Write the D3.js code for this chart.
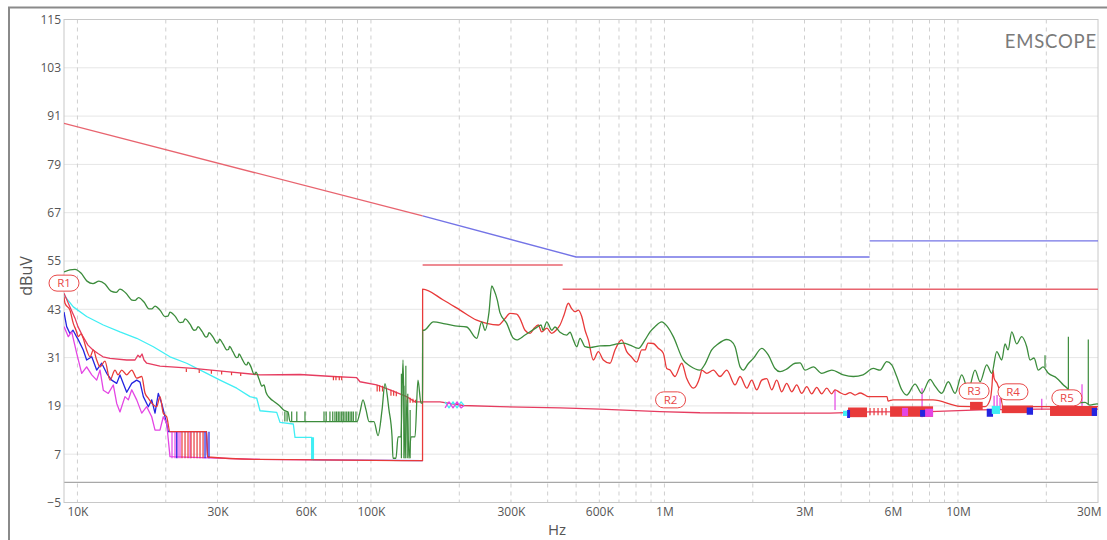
<!DOCTYPE html>
<html><head><meta charset="utf-8">
<script src="https://cdn.jsdelivr.net/npm/d3@7"></script>
<style>body{margin:0;background:#fff;} svg{display:block;font-family:"Open Sans",sans-serif;}</style>
</head><body><svg id="c" width="1107" height="540"></svg>
<script>
// ---- data (frequency in kHz, level in dBuV) ----
const yTicks = [115,103,91,79,67,55,43,31,19,7,-5];
const xTickValues = [10,30,60,100,300,600,1000,3000,6000,10000,30000];
const xTickLabels = ["10K","30K","60K","100K","300K","600K","1M","3M","6M","10M","30M"];

const limitPink = [[9,89.2],[150,66.2]];
const limitBlue = [[150,66.2],[500,56],[5000,56]];
const limitBlueHi = [[5000,60],[30000,60]];
const limitAvgA = [[150,54],[450,54]];
const limitAvgB = [[450,48],[30000,48]];

const greenTrace = [[9.0,52.3],[9.43,52.8],[9.81,52.9],[10.28,52.0],[10.78,50.0],[11.3,49.4],[11.84,50.0],[12.41,49.3],[13.01,47.5],[13.54,47.2],[13.96,48.0],[14.64,47.0],[15.35,45.3],[15.71,45.2],[16.15,45.9],[16.86,44.8],[17.53,43.1],[17.95,43.1],[18.38,43.8],[19.11,42.8],[19.88,41.2],[20.35,41.3],[20.67,42.3],[21.5,41.3],[22.36,39.7],[22.9,39.8],[23.26,40.6],[24.19,39.3],[24.96,37.8],[25.35,37.9],[25.76,38.7],[26.58,37.5],[27.42,36.1],[27.75,36.3],[28.07,37.2],[28.97,36.1],[29.9,34.6],[30.25,34.9],[30.49,35.6],[31.33,34.4],[32.34,32.9],[32.72,33.0],[32.98,33.8],[33.89,32.4],[34.83,31.0],[35.24,31.1],[35.53,31.9],[36.37,30.7],[37.53,29.2],[37.82,29.2],[38.12,29.9],[39.02,28.7],[39.96,26.9],[40.27,26.9],[40.59,27.4],[41.55,25.7],[42.54,23.9],[43.21,24.2],[43.89,22.4],[45.3,20.9],[47.11,19.9],[49.0,18.9],[50.57,17.9],[52.18,17.5],[53.0,15.1],[89.65,15.1],[91.78,17.5],[93.96,20.5],[96.21,18.0],[98.5,15.1],[102.4,15.1],[105.7,11.6],[109.1,18.0],[111.6,24.5],[115.2,18.0],[118.0,11.4],[118.9,6.0],[121.7,6.0],[123.7,11.3],[126.6,11.3],[128.6,30.4],[130.6,6.0],[132.7,20.5],[134.8,6.0],[136.9,11.3],[141.3,11.3],[144.6,25.4],[148.1,19.7],[149.9,19.7],[150.0,37.8],
[151.6,37.8],[163.2,39.9],[178.8,39.4],[193.4,38.9],[212.0,38.6],[229.3,35.8],[238.5,39.9],[244.7,37.8],[252.5,42.3],[257.9,48.8],[262.6,47.8],[269.5,45.3],[275.3,42.1],[290.2,39.5],[305.6,35.8],[313.8,35.4],[334.9,36.6],[367.2,38.5],[379.8,39.1],[385.7,37.8],[397.3,39.9],[413.1,37.8],[423.9,38.6],[440.7,37.3],[464.6,36.6],[476.7,37.3],[489.3,35.4],[502.6,33.7],[515.7,35.8],[536.4,33.7],[557.9,33.5],[603.4,33.9],[652.4,34.0],[689.2,34.4],[724.1,34.6],[763.4,34.1],[814.7,33.3],[858.7,35.4],[893,37.4],[928.8,38.7],[978.9,39.9],[1020,38.8],[1072,36.2],[1159,30.4],[1222,28.9],[1322,27.9],[1375,29.4],[1449,32.9],[1523,34.4],[1630,35.5],[1686,35.1],[1740,33.7],[1810,28.7],[1857,27.9],[1926,29.4],[2009,30.8],[2146,33.3],[2260,31.6],[2381,28.3],[2476,27.5],[2616,28.2],[2786,29.6],[2897,29.7],[3013,27.9],[3216,28.7],[3434,27.1],[3715,27.9],[4069,26.7],[4401,26.3],[4748,26.7],[5147,28.3],[5426,27.9],[5720,30.0],[5948,29.2],[6186,26.3],[6434,23.0],[6690,21.7],[7142,24.4],[7528,22.1],[8034,25.6],[8356,23.9],[8803,22.1],[9271,25.0],[9773,22.1],[10300,26.7],[10848,23.0],[11433,27.9],[11892,25.0],[12533,29.2],[13036,27.1],[13556,32.5],[14099,30.4],[14468,34.4],[14815,32.9],[15251,37.4],[15857,34.4],[16491,36.2],[17152,33.7],[17600,30.4],[18161,30.9],[18786,27.9],[19490,28.7],[20320,27.1],[21716,25.9],[22868,24.2],[23779,23.0],[24478,20.9],[25650,19.7],[27094,19.9],[28175,19.2],[29771,19.5],[30000,19.4]];

const redTraceA = [[9.0,46.1],[9.07,44.5],[9.43,42.8],[9.68,39.5],[9.89,37.8],[10.07,36.2],[10.28,36.9],[10.45,35.9],[10.75,32.9],[11.04,31.2],[11.33,32.9],[11.63,30.4],[11.94,28.7],[12.41,30.1],[12.91,25.4],[13.43,27.9],[13.75,26.7],[14.15,27.9],[14.72,26.7],[15.31,27.9],[15.92,25.9],[16.56,26.3],[16.99,22.2],[17.44,20.9],[17.91,19.7],[18.62,18.8],[19.11,21.3],[19.61,17.2],[20.14,16.3],[20.67,12.6],[27.53,12.6],[27.75,6.3],[41.88,5.7],[149.9,5.4],[150.0,48.0],
[176.4,45.3],[201.2,42.8],[229.3,40.3],[248.0,39.5],[271.6,39.1],[286.3,40.7],[297.7,42.0],[313.8,41.8],[322.0,40.7],[334.9,37.8],[348.3,37.0],[359.5,38.3],[371.7,39.1],[381.8,37.4],[397.3,38.3],[413.1,37.0],[427.2,37.8],[440.7,39.1],[454.8,41.6],[470.5,44.5],[482.4,43.2],[495.9,42.4],[508.9,42.8],[522.6,41.2],[536.4,37.8],[550.4,35.4],[572.5,30.4],[595.3,32.5],[619.0,30.4],[652.4,29.6],[678.5,32.9],[715.2,35.4],[743.8,32.5],[773.5,31.1],[804.5,29.9],[836.7,32.9],[858.7,32.9],[879.1,34.6],[916.3,34.5],[950.6,33.4],[991.3,32.1],[1018,28.3],[1045,27.9],[1086,26.3],[1145,29.6],[1191,25.8],[1255,23.4],[1322,26.3],[1340,27.9],[1394,27.1],[1468,27.9],[1546,26.3],[1630,27.9],[1740,24.2],[1810,26.3],[1907,23.4],[1983,25.4],[2062,23.0],[2146,25.4],[2231,25.8],[2320,23.0],[2413,25.4],[2509,22.5],[2609,24.6],[2714,22.5],[2822,24.2],[2936,22.1],[3053,23.8],[3175,22.0],[3302,23.6],[3434,22.0],[3571,23.4],[3715,22.0],[3812,23.0],[3965,22.3],[4124,21.8],[4288,22.3],[4460,21.7],[4638,22.2],[4823,21.7],[4939,21.3],[5733,21.3],[5778,20.2],[6009,20.5],[8225,20.5],[10164,18.9],[12367,18.8],[12862,20.5],[13065,24.2],[13168,27.9],[13276,25.9],[13589,24.6],[13912,22.4],[14243,18.8],[30000,18.8]];

const redTraceB = [[9.0,47.0],[9.43,43.6],[9.81,40.8],[10.04,38.7],[10.45,36.2],[10.86,34.1],[11.3,32.9],[11.75,32.0],[12.22,31.2],[12.91,30.8],[14.72,30.4],[15.71,30.4],[16.08,31.6],[16.34,31.1],[16.6,31.9],[16.86,30.4],[17.22,29.6],[19.11,28.9],[24.82,28.3],[32.25,27.5],[41.88,26.7],[57.32,26.8],[74.25,26.3],[89.44,26.0],[91.78,25.0],[104.6,24.2],[116.1,23.0],[132.4,21.3],[141.3,20.0],[171.9,20.0],[205.9,19.1],[275.3,18.8],[440.7,18.5],[603.4,18.2],[965.6,17.6],[1322,17.3],[2117,17.2],[3666,17.2],[5017,17.5],[8034,17.6],[11892,18.0],[19037,18.2],[30000,18.2]];

const blueTrace = [[9.0,42.3],[9.19,38.7],[9.43,37.0],[9.66,37.8],[10.07,35.4],[10.47,32.9],[10.75,30.4],[11.19,31.2],[11.63,27.9],[12.10,29.6],[12.58,27.1],[13.08,25.4],[13.61,24.6],[13.96,26.7],[14.72,22.4],[15.31,24.6],[15.92,25.4],[16.34,24.9],[16.77,21.3],[17.44,18.8],[17.91,20.5],[18.38,17.2],[18.86,22.1],[19.37,19.6],[19.88,16.3],[20.4,12.6],[27.53,12.6],[27.75,6.3],[28.18,6.3]];

const magentaTrace = [[9.0,38.7],[9.31,36.2],[9.56,37.4],[9.94,32.1],[10.34,27.1],[10.75,28.7],[11.19,26.7],[11.63,25.4],[11.94,27.9],[12.25,22.9],[12.74,22.1],[13.25,24.2],[13.61,19.6],[13.96,17.5],[14.52,21.3],[14.91,20.5],[15.31,23.0],[15.92,20.5],[16.56,17.2],[17.22,18.8],[17.91,16.3],[18.38,13.0],[19.11,13.0],[19.61,16.3],[20.14,14.7],[20.67,6.4],[41.88,5.7],[149.9,5.4]];

const cyanTrace = [[9.0,46.5],[9.68,43.6],[10.75,41.2],[12.25,39.1],[13.96,37.4],[15.92,35.8],[18.14,33.7],[20.67,31.2],[23.56,29.6],[26.85,27.5],[30.61,25.4],[34.89,23.4],[38.72,21.3],[40.82,20.9],[41.88,17.8],[47.75,17.4],[49.0,14.9],[54.39,14.5],[55.12,11.2],[62.84,11.2],[63.63,5.6],[149.9,5.4]];

const cyanCross = [[178.8,20.0],[184.5,18.5],[190.4,20.0],[196.5,18.5],[202.8,20.0],[207.6,19.1]];
const magentaCross = [[178.8,18.5],[184.5,20.0],[190.4,18.5],[196.5,20.0],[202.8,18.5],[207.6,19.1]];

// spikes: [freq, low, high]
const greenSpikes = [[50.9,15.1,17.6],[51.8,15.1,17.6],[53.7,15.1,17.6],[55.9,15.1,17.6],[59.6,15.1,17.6],[69.2,15.1,17.6],[70.4,15.1,17.6],[72.5,15.1,17.6],[74.1,15.1,17.6],[75.4,15.1,17.6],[76.4,15.1,17.6],[77.4,15.1,17.6],[78.4,15.1,17.6],[79.5,15.1,17.6],[80.5,15.1,17.6],[81.6,15.1,17.6],[82.7,15.1,17.6],[83.8,15.1,17.6],[84.9,15.1,17.6],[86.0,15.1,17.6],[87.1,15.1,17.6],[88.9,15.1,17.6],[127.0,6.0,27.0],[129.5,6.0,24.0],[131.5,6.0,29.0],[133.5,6.0,22.0],[136.0,6.0,18.0],[19797,28.5,31.6],[23779,23.0,36.2],[27800,19.5,35.5]];
const redSpikes = [[22.71,6.0,12.6],[23.26,6.0,12.6],[23.81,6.0,12.6],[24.38,6.0,12.6],[24.96,6.0,12.6],[25.56,6.0,12.6],[26.16,6.0,12.6],[26.79,6.0,12.6],
[23.5,27.4,28.3],[26.0,27.2,28.1],[28.6,27.0,27.9],[31.0,26.8,27.7],[33.5,26.6,27.4],[36.0,26.4,27.2],
[74.5,25.4,26.4],[76.0,25.4,26.4],[78.0,25.4,26.3],[79.5,25.4,26.3],[105.0,22.6,24.2],[107.0,22.6,24.1],[109.5,22.6,24.0],[117.0,21.5,23.0],[119.5,21.5,22.8],[122.0,21.4,22.6],[133.0,19.8,21.2],[136.0,19.8,21.0],[139.0,19.8,20.8],[142.0,19.8,20.5],
[5017,16.7,18.5],[5177,16.7,18.5],[5342,16.7,18.5],[5512,16.7,18.5],[5687,16.7,18.5]];
const magentaSpikes = [[21.0,6.0,12.6],[21.5,6.0,12.6],[22.01,6.0,12.6],[22.36,6.0,12.6],[24.19,6.0,12.6],[3812,18.0,23.0],[7546,16.2,23.4],[13276,18.0,21.5],[13589,18.0,21.7],[13912,18.0,21.0],[19300,18.0,20.8],[26465,18.0,24.4]];
const blueSpikes = [[21.79,6.0,12.6],[27.21,6.0,12.6],[28.07,6.0,12.6]];

// dense noise bands: [freqStart, freqEnd, low, high]
const redBlocks = [[4222,4900,16.2,18.6],[5870,8225,16.3,18.9],[10994,12140,18.0,20.0],[14099,18019,17.2,19.1],[20589,29771,16.5,18.8]];
const blueBlocks = [[4190,4288,16.0,18.0],[7428,7726,16.3,18.0],[12533,13168,16.3,18.3],[17152,18019,16.8,18.6],[28566,29771,16.5,18.5]];
const magentaBlocks = [[6449,6760,16.5,18.5],[7726,8225,16.3,18.3]];
const cyanBlocks = [[62.5,64.0,5.5,11.2],[4059,4190,16.5,17.8],[13036,13912,17.0,19.0]];

const markerNames = ["R1","R2","R3","R4","R5"];
const markerFreq = [9, 1049, 11350, 15400, 23500];
const markerLevel = [49.5, 20.5, 22.7, 22.5, 21.0];

// ---- drawing ----
const svg = d3.select("#c");
const L = 64, R = 1098, T = 19.5, B = 502.5;
const x = d3.scaleLog().domain([9, 30000]).range([L, R]);
const y = d3.scaleLinear().domain([-5, 115]).range([B, T]);

svg.append("rect").attr("x",9).attr("y",7.5).attr("width",1130).attr("height",560)
  .attr("fill","none").attr("stroke","#8a8a8a").attr("stroke-width",2);

svg.append("defs").append("clipPath").attr("id","plot")
  .append("rect").attr("x",L).attr("y",T).attr("width",R-L).attr("height",B-T);

svg.append("g").selectAll("line").data(yTicks).join("line")
  .attr("x1",L).attr("x2",R).attr("y1",d=>y(d)).attr("y2",d=>y(d))
  .attr("stroke","#e6e6e6").attr("stroke-width",1);

const minor = [];
for (let e = 1; e <= 4; e++) for (let m = 1; m <= 9; m++) { const v = m*Math.pow(10,e); if (v >= 10 && v < 30000) minor.push(v); }
svg.append("g").selectAll("line").data(minor).join("line")
  .attr("x1",d=>x(d)).attr("x2",d=>x(d)).attr("y1",T).attr("y2",B)
  .attr("stroke","#cfcfcf").attr("stroke-width",1).attr("stroke-dasharray","4,4");

svg.append("line").attr("x1",L).attr("x2",R).attr("y1",y(0)).attr("y2",y(0))
  .attr("stroke","#a8a8a8").attr("stroke-width",1.2);

svg.append("rect").attr("x",L).attr("y",T).attr("width",R-L).attr("height",B-T)
  .attr("fill","none").attr("stroke","#c8c8c8").attr("stroke-width",1);

const xAxis = svg.append("g").attr("transform",`translate(0,${B})`)
  .call(d3.axisBottom(x).tickValues(xTickValues).tickFormat((d,i)=>xTickLabels[i]).tickSize(0).tickPadding(5));
xAxis.select(".domain").remove();
xAxis.selectAll("text").attr("fill","#555").style("font-size","12px").style("font-family","'Open Sans',sans-serif");
xAxis.selectAll(".tick").filter((d,i)=>i===xTickLabels.length-1).select("text").attr("text-anchor","end").attr("dx","3");

const yAxis = svg.append("g").attr("transform",`translate(${L},0)`)
  .call(d3.axisLeft(y).tickValues(yTicks).tickSize(0).tickPadding(3));
yAxis.select(".domain").remove();
yAxis.selectAll("text").attr("fill","#555").style("font-size","12px").style("font-family","'Open Sans',sans-serif");

svg.append("text").attr("x",557).attr("y",535).attr("text-anchor","middle")
  .attr("fill","#555").style("font-size","15px").text("Hz");
svg.append("text").attr("transform","translate(32,276) rotate(-90)").attr("text-anchor","middle")
  .attr("fill","#555").style("font-size","16px").text("dBuV");
svg.append("text").attr("x",1097).attr("y",48).attr("text-anchor","end")
  .attr("fill","#7a7a7a").style("font-size","18.5px").style("letter-spacing","0.8px")
  .style("font-family","Lato,'Open Sans',sans-serif").text("EMSCOPE");

const g = svg.append("g").attr("clip-path","url(#plot)");
const line = d3.line().x(d=>x(d[0])).y(d=>y(d[1]));
const smooth = d3.line().x(d=>x(d[0])).y(d=>y(d[1])).curve(d3.curveMonotoneX);

function path(data, color, w, gen) {
  g.append("path").datum(data).attr("d",(gen||line)).attr("fill","none")
    .attr("stroke",color).attr("stroke-width",w).attr("stroke-linejoin","round");
}
function spikes(data, color) {
  g.append("g").selectAll("line").data(data).join("line")
    .attr("x1",d=>x(d[0])).attr("x2",d=>x(d[0])).attr("y1",d=>y(d[1])).attr("y2",d=>y(d[2]))
    .attr("stroke",color).attr("stroke-width",1.2);
}
function blocks(data, color) {
  g.append("g").selectAll("rect").data(data).join("rect")
    .attr("x",d=>x(d[0])).attr("width",d=>Math.max(1,x(d[1])-x(d[0])))
    .attr("y",d=>y(d[3])).attr("height",d=>y(d[2])-y(d[3])).attr("fill",color);
}

const C = {green:"#3c8c3c", red:"#e83a3a", redB:"#e63c60", blue:"#2424e0", magenta:"#e445e4", cyan:"#40eef4",
           limPink:"#e8646f", limBlue:"#7474e6"};

path(limitPink, C.limPink, 1.4);
path(limitBlue, C.limBlue, 1.4);
path(limitBlueHi, C.limBlue, 1.4);
path(limitAvgA, C.limPink, 1.4);
path(limitAvgB, C.limPink, 1.4);

path(cyanTrace, C.cyan, 1.3);
path(blueTrace, C.blue, 1.3);
path(magentaTrace, C.magenta, 1.3);
spikes(magentaSpikes, C.magenta);
spikes(blueSpikes, C.blue);
blocks(cyanBlocks.slice(0,1), C.cyan);
path(redTraceB, C.redB, 1.3);
path(redTraceA, C.red, 1.3, smooth);
spikes(redSpikes, C.red);
blocks(redBlocks, C.red);
blocks(magentaBlocks, C.magenta);
blocks(blueBlocks, C.blue);
blocks(cyanBlocks.slice(1), C.cyan);
path(cyanCross, C.cyan, 1.3);
path(magentaCross, C.magenta, 1.3);
path(greenTrace, C.green, 1.3, smooth);
spikes(greenSpikes, C.green);

const mk = svg.append("g").selectAll("g").data(markerNames).join("g")
  .attr("transform",(d,i)=>`translate(${x(markerFreq[i])},${y(markerLevel[i])})`);
mk.append("rect").attr("x",-15).attr("y",-8).attr("width",30).attr("height",16).attr("rx",8)
  .attr("fill","#fff").attr("stroke","#e84848").attr("stroke-width",1);
mk.append("text").attr("text-anchor","middle").attr("dy","0.35em").attr("fill","#e84848")
  .style("font-size","11.5px").text(d=>d);
</script></body></html>
